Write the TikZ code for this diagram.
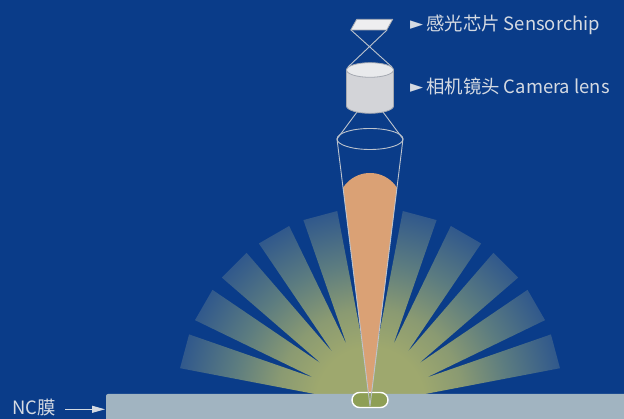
\documentclass[tikz,border=0pt]{standalone}
\usepackage{fontspec}
\setmainfont{Noto Sans CJK SC}
\newfontfamily\symfont{DejaVu Sans}
\usetikzlibrary{calc,arrows.meta}

\definecolor{bgblue}{HTML}{0A3C89}
\definecolor{membrane}{HTML}{A1B4C1}
\definecolor{orangefill}{HTML}{DAA175}
\definecolor{pillgreen}{HTML}{8E9F56}
\definecolor{lensbody}{HTML}{D3D4D8}
\definecolor{lenstop}{HTML}{E9EAEC}
\definecolor{chipfill}{HTML}{EEEEF0}
\definecolor{outline}{HTML}{A5A9B1}
\definecolor{conegray}{HTML}{BCC3CD}
\definecolor{labelgray}{HTML}{D5DAE2}
\definecolor{glowA}{RGB}{158,168,110}
\definecolor{glowB}{RGB}{138,154,114}
\definecolor{glowC}{RGB}{92,124,128}
\definecolor{glowD}{RGB}{48,88,140}

% light spreading out of the test zone
\pgfdeclareradialshading{glow}{\pgfpoint{0bp}{0bp}}{%
  color(0bp)=(glowA); color(7bp)=(glowA); color(12bp)=(glowB);
  color(18bp)=(glowC); color(25bp)=(glowD); color(50bp)=(glowD)}

\newcommand{\pointermark}{\raisebox{1.2pt}{\symfont\fontsize{17}{18}\selectfont ►}}

\begin{document}
\begin{tikzpicture}[x=1pt,y=1pt,line join=round,
  labeltext/.style={anchor=base west,inner sep=0pt,text=labelgray,
    font=\fontsize{18.4}{21}\selectfont}]
  \fill[bgblue] (0,0) rectangle (624,419);
  \useasboundingbox (0,0) rectangle (624,419);

  % fan of light rays
  \coordinate (C) at (370,18);
  \begin{scope}
    \clip \foreach \a in {15,30,45,60,75,105,120,135,150,165}{
      ($(C)+(\a+90:3.5)$) -- ($(C)+(\a:192)+(\a+90:17.5)$)
      -- ($(C)+(\a:192)+(\a-90:17.5)$) -- ($(C)+(\a-90:3.5)$) -- cycle};
    \shade[shading=glow] (C) circle (193);
  \end{scope}

  % field of view of the lens, filled with the reflected light
  \begin{scope}
    \clip (337,280) -- (403,280) -- (370,13) -- cycle;
    \fill[orangefill] (338,214) arc (180:0:32) -- (402,0) -- (338,0) -- cycle;
  \end{scope}

  % NC membrane and test line
  \fill[membrane] (106,0) [rounded corners=2] -- (106,25) [sharp corners] -- (624,25) -- (624,0) -- cycle;
  \draw[white,line width=1.4,fill=pillgreen,rounded corners=7.5] (352,11.5) rectangle (388,26.5);

  % cone of view
  \draw[conegray,line width=0.9] (337,280) -- (370,13) -- (403,280);
  \draw[conegray,line width=0.9] (370,280) ellipse (33 and 10.5);
  \draw[conegray,line width=0.9] (357,307) -- (337,280) (383,307) -- (403,280);

  % crossed rays between chip and lens
  \draw[conegray,line width=0.9] (351,389) -- (392,352) (387,389) -- (348,352);

  % camera lens
  \filldraw[fill=lensbody,draw=outline,line width=0.8]
    (346.5,349) -- (346.5,313) arc (180:360:23.5 and 7.3) -- (393.5,349) -- cycle;
  \filldraw[fill=lenstop,draw=outline,line width=0.8] (370,349) ellipse (23.5 and 7.3);

  % sensor chip
  \filldraw[fill=chipfill,draw=outline,line width=0.8]
    (350.7,389) -- (356.7,399.7) -- (392.7,399.7) -- (386.7,389) -- cycle;

  % labels
  \node[labeltext] (chiplbl) at (410,388.3)
    {\pointermark\hspace{3pt}感光芯片 Sensorchip};
  \node[labeltext] (lenslbl) at (410,325)
    {\pointermark\hspace{3pt}相机镜头 Camera lens};
  \node[labeltext] (nclbl) at (12.2,4) {NC膜};
  \coordinate (ncend) at (105,9.7);
  \draw[labelgray,line width=0.9,-{Triangle[length=13pt,width=7pt]}]
    ([xshift=9pt]nclbl.east |- ncend) -- (ncend);
\end{tikzpicture}
\end{document}
